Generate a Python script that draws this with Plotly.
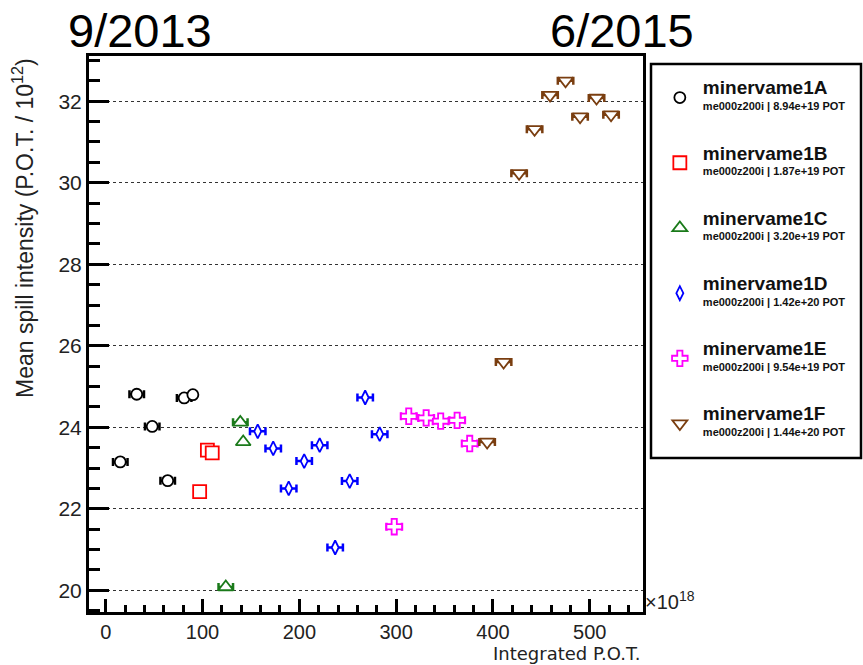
import plotly.graph_objects as go

# ---- data (x in units of 1e18 POT, y = mean spill intensity in 1e12 POT) ----
names = ["minervame1A", "minervame1B", "minervame1C", "minervame1D", "minervame1E", "minervame1F"]
subs = ["me000z200i | 8.94e+19 POT", "me000z200i | 1.87e+19 POT", "me000z200i | 3.20e+19 POT",
        "me000z200i | 1.42e+20 POT", "me000z200i | 9.54e+19 POT", "me000z200i | 1.44e+20 POT"]

x_1A = [15, 32, 48, 64, 81, 90]
y_1A = [23.15, 24.81, 24.02, 22.69, 24.72, 24.80]
e_1A = [7.5, 7.5, 7.5, 7.5, 7.5, 0]

x_1B = [97, 105, 110]
y_1B = [22.42, 23.44, 23.37]
e_1B = [0, 0, 0]

x_1C = [124, 139, 142]
y_1C = [20.08, 24.12, 23.64]
e_1C = [7.5, 7.5, 0]

x_1D = [157, 173, 189, 205, 221, 237, 252, 268, 283]
y_1D = [23.90, 23.48, 22.50, 23.17, 23.56, 21.05, 22.68, 24.73, 23.83]
e_1D = [8, 8, 8, 8, 8, 8, 8, 8, 8]

x_1E = [298, 313, 331, 346, 363, 376]
y_1E = [21.56, 24.27, 24.23, 24.15, 24.17, 23.60]
e_1E = [8, 8, 8, 8, 8, 8]

x_1F = [394, 411, 427, 443, 459, 475, 490, 507, 522]
y_1F = [23.64, 25.60, 30.23, 31.31, 32.15, 32.50, 31.62, 32.08, 31.67]
e_1F = [8, 8, 8, 8, 8, 8, 8, 8, 8]

series = [
    (x_1A, y_1A, e_1A, "circle", "#000000", 11),
    (x_1B, y_1B, e_1B, "square", "#ff0000", 13),
    (x_1C, y_1C, e_1C, "triangle-up", "#1a7a1a", 13),
    (x_1D, y_1D, e_1D, "diamond-tall", "#0000ff", 10),
    (x_1E, y_1E, e_1E, "cross", "#ff00ff", 13),
    (x_1F, y_1F, e_1F, "triangle-down", "#7a3e10", 13),
]

x_range = [-17.3, 555]
y_range = [19.467, 33.11]

FONT = "Liberation Sans, Arial, sans-serif"

fig = go.Figure()
for (xs, ys, es, sym, col, sz), nm, sb in zip(series, names, subs):
    fig.add_trace(go.Scatter(
        x=xs, y=ys, mode="markers",
        name=("<span style='font-size:19px'><b>" + nm + "</b></span><br>"
              "<span style='font-size:11px'><b>" + sb + "</b></span>"),
        legendgroup=nm,
        marker=dict(symbol=sym, size=sz, color="white", line=dict(color=col, width=1.8)),
        error_x=dict(type="data", array=es, visible=True, color=col, thickness=2.5, width=4),
    ))

fig.update_layout(
    width=863, height=665,
    margin=dict(l=89, r=220, t=56, b=53),
    paper_bgcolor="white", plot_bgcolor="white",
    font=dict(family=FONT, color="#111111", size=20),
    showlegend=True,
    legend=dict(
        x=1.025, y=0.965, xanchor="left", yanchor="top",
        font=dict(family=FONT, size=12, color="#111111"),
        tracegroupgap=31, traceorder="grouped", itemwidth=36,
        bgcolor="rgba(0,0,0,0)", borderwidth=0,
    ),
    xaxis=dict(
        range=x_range, showline=True, linewidth=3, linecolor="black", mirror=True,
        ticks="inside", ticklen=13, tickwidth=2.5, tickcolor="black",
        tick0=0, dtick=100, showgrid=False, zeroline=False,
        tickfont=dict(family=FONT, size=20, color="#222222"),
        minor=dict(dtick=20, ticks="inside", ticklen=7, tickwidth=2.5, tickcolor="black", showgrid=False),
    ),
    yaxis=dict(
        range=y_range, showline=True, linewidth=3, linecolor="black", mirror=True,
        ticks="inside", ticklen=20, tickwidth=2.5, tickcolor="black",
        tick0=20, dtick=2, showgrid=True, gridcolor="#333333", gridwidth=1, griddash="dot",
        zeroline=False,
        tickfont=dict(family=FONT, size=21, color="#222222"),
        minor=dict(dtick=0.5, ticks="inside", ticklen=11, tickwidth=2.5, tickcolor="black", showgrid=False),
    ),
)

# legend frame
fig.add_shape(type="rect", xref="paper", yref="paper",
              x0=(651 - 89) / 554, x1=(861 - 89) / 554,
              y0=(612 - 458) / 556, y1=(612 - 64) / 556,
              line=dict(color="black", width=2.5), fillcolor="rgba(0,0,0,0)")

# axis titles and annotations
fig.add_annotation(text="Integrated P.O.T.", xref="paper", yref="paper",
                   x=1.0, y=(612 - 653) / 556, xanchor="right", yanchor="middle", showarrow=False,
                   font=dict(family="DejaVu Sans, sans-serif", size=18, color="#222222"))
fig.add_annotation(text="\u00d710<sup>18</sup>", xref="paper", yref="paper",
                   x=1.0, y=0.02, xanchor="left", yanchor="middle", showarrow=False,
                   font=dict(family=FONT, size=20, color="#222222"))
fig.add_annotation(text="Mean spill intensity (P.O.T. / 10<sup>12</sup>)", xref="paper", yref="paper",
                   x=(23 - 89) / 554, y=1.0, xanchor="center", yanchor="top", textangle=-90, showarrow=False,
                   font=dict(family=FONT, size=23, color="#222222"))
fig.add_annotation(text="9/2013", xref="paper", yref="paper",
                   x=(66 - 89) / 554, y=(612 - 30) / 556, xanchor="left", yanchor="middle", showarrow=False,
                   font=dict(family="Liberation Sans Narrow, Arial Narrow, sans-serif", size=47, color="black"))
fig.add_annotation(text="6/2015", xref="paper", yref="paper",
                   x=(548 - 89) / 554, y=(612 - 30) / 556, xanchor="left", yanchor="middle", showarrow=False,
                   font=dict(family="Liberation Sans Narrow, Arial Narrow, sans-serif", size=47, color="black"))

fig.write_html("out.html")
